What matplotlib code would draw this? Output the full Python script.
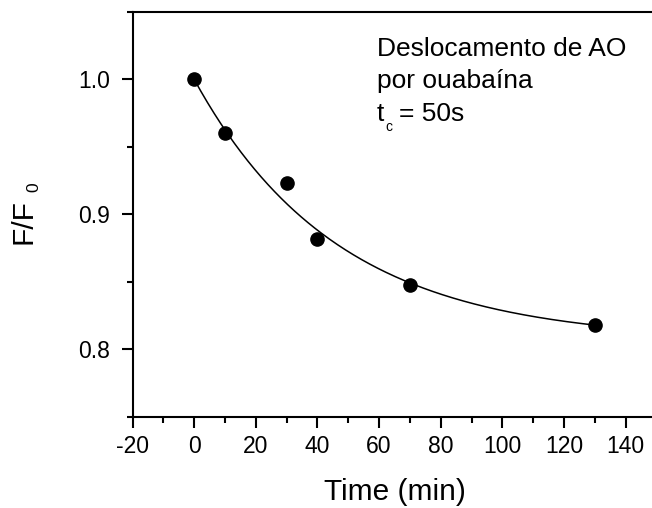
import numpy as np
import matplotlib
matplotlib.use("Agg")
import matplotlib.pyplot as plt
from matplotlib.ticker import MultipleLocator

plt.rcParams['font.family'] = ['Liberation Sans', 'DejaVu Sans']
plt.rcParams['axes.unicode_minus'] = False

# Measured fluorescence ratio versus time
time_min = [0, 10, 30, 40, 70, 130]
f_ratio = [1.000, 0.960, 0.923, 0.882, 0.848, 0.818]

# Single-exponential decay fit: y = y0 + A * exp(-t / tau)
fit_y0 = 0.806
fit_A = 0.194
fit_tau = 46.6

W, H = 652, 508
fig = plt.figure(figsize=(W / 100, H / 100), dpi=100)
ax = fig.add_axes([132.5 / W, (H - 416.8) / H, (656.5 - 132.5) / W, (416.8 - 11.8) / H])

t_fit = np.linspace(min(time_min), max(time_min), 300)
ax.plot(t_fit, fit_y0 + fit_A * np.exp(-t_fit / fit_tau), color='black', lw=1.1, zorder=2)
ax.plot(time_min, f_ratio, 'o', color='black', ms=9.5, zorder=3)

ax.set_xlim(-20, 150)
ax.set_ylim(0.75, 1.05)
ax.xaxis.set_minor_locator(MultipleLocator(10))
ax.yaxis.set_minor_locator(MultipleLocator(0.05))
ax.set_xticks([-20, 0, 20, 40, 60, 80, 100, 120, 140])
ax.set_yticks([0.8, 0.9, 1.0])
ax.set_yticklabels(['0.8', '0.9', '1.0'])

for s in ax.spines.values():
    s.set_linewidth(1.5)
ax.tick_params(which='major', direction='out', length=8, width=1.5, labelsize=16.5, pad=5)
ax.tick_params(which='minor', direction='out', length=4, width=1.5)
ax.tick_params(axis='y', which='major', pad=8)

ax.set_xlabel('Time (min)', fontsize=21.5)
ax.xaxis.set_label_coords(0.5, -0.15)
fig.text(24 / W, 1 - 221 / H, 'F/F', fontsize=21.5, rotation=90, ha='center', va='center')
fig.text(34 / W, 1 - 187 / H, '0', fontsize=12.5, rotation=90, ha='center', va='center')

# Annotation block
fs = 19
fig.text(377 / W, 1 - 56 / H, 'Deslocamento de AO', fontsize=fs, va='baseline')
fig.text(377 / W, 1 - 88 / H, 'por ouabaína', fontsize=fs, va='baseline')
fig.text(377 / W, 1 - 121 / H, 't', fontsize=fs, va='baseline')
fig.text(385 / W, 1 - 131 / H, 'c', fontsize=10, va='baseline')
fig.text(399 / W, 1 - 121 / H, '= 50s', fontsize=fs, va='baseline')

fig.savefig('out.png', dpi=100)
